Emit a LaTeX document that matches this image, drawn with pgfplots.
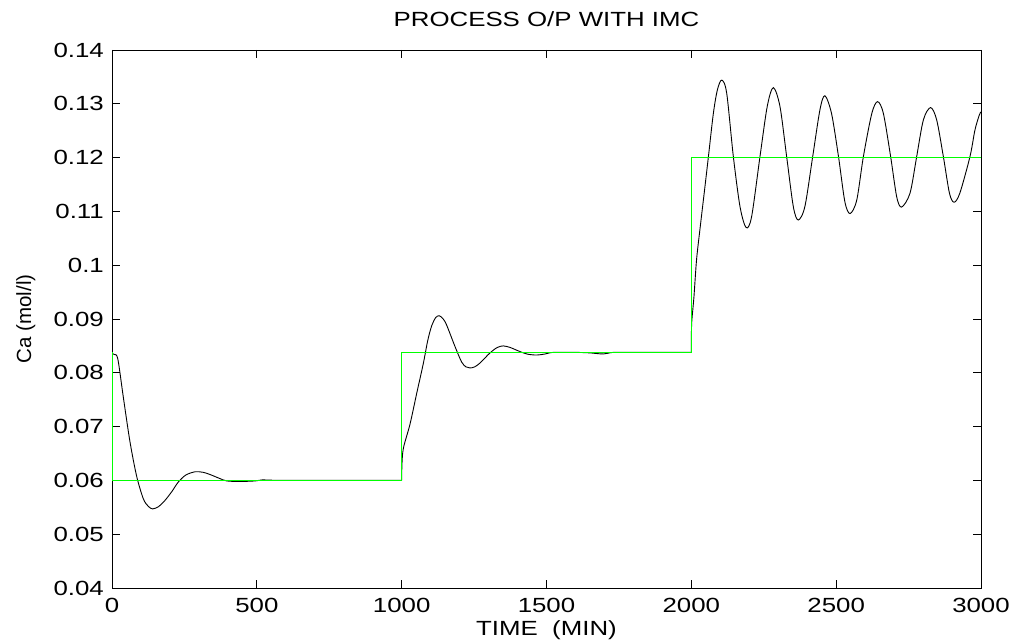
\documentclass[border=0pt]{standalone}
\usepackage{fontspec}
\setmainfont{Liberation Sans}[FakeStretch=1.26]
\newfontfamily\ylfont{Liberation Sans}
\usepackage{pgfplots}
\pgfplotsset{compat=1.18}
\definecolor{mgreen}{RGB}{0,255,0}
\begin{document}
\begin{tikzpicture}[font=\fontsize{20.5bp}{24bp}\selectfont]
\useasboundingbox (0,0) rectangle (1010bp,641bp);
\begin{axis}[
  at={(112bp,53bp)}, anchor=south west,
  width=869bp, height=538bp, scale only axis,
  xmin=0, xmax=3000, ymin=0.04, ymax=0.14,
  xtick={0,500,1000,1500,2000,2500,3000},
  xticklabels={0,500,1000,1500,2000,2500,3000},
  ytick={0.04,0.05,0.06,0.07,0.08,0.09,0.1,0.11,0.12,0.13,0.14},
  yticklabels={0.04,0.05,0.06,0.07,0.08,0.09,0.1,0.11,0.12,0.13,0.14},
  scaled ticks=false,
  /pgf/number format/assume math mode=true,
  tick align=inside,
  major tick length=8bp,
  minor tick num=0,
  axis line style={line width=0.8bp, black},
  tick style={line width=0.8bp, black},
  xticklabel style={anchor=north, inner sep=0pt, yshift=-10bp, font=\fontsize{20.5bp}{24bp}\selectfont},
  yticklabel style={anchor=east, inner sep=0pt, xshift=-8bp, font=\fontsize{20.5bp}{24bp}\selectfont},
  title={PROCESS O/P WITH IMC},
  title style={at={(axis description cs:0.5,1.0329)}, anchor=base, inner sep=0pt, font=\fontsize{20.5bp}{24bp}\selectfont},
  xlabel={TIME\ \ (MIN)},
  xlabel style={at={(axis description cs:0.5,-0.0892)}, anchor=base, inner sep=0pt, font=\fontsize{20.5bp}{24bp}\selectfont},
  ylabel={Ca (mol/l)},
  ylabel style={at={(axis description cs:-0.0932,0.5)}, anchor=base, inner sep=0pt, font=\ylfont\fontsize{20.5bp}{24bp}\selectfont},
]
% Process output, segment 1
\addplot[black, line width=0.9bp, smooth, tension=0.5] coordinates {
(0,0.0836) (8,0.0834) (20,0.0826) (39,0.0755) (62,0.0672) (85,0.0608)
(108,0.0566) (125,0.0552) (140,0.0547) (160,0.0551) (180,0.0561)
(205,0.0578) (229,0.0597) (255,0.0610) (287,0.0616) (315,0.0615)
(338,0.0611) (370,0.0604) (396,0.0599) (442,0.0598) (494,0.0599)
(520,0.0601) (600,0.0600) (1000,0.0600)
};
% segment 2
\addplot[black, line width=0.9bp, smooth, tension=0.5] coordinates {
(1000,0.0600) (1001,0.0630) (1006,0.0660) (1029,0.0705) (1052,0.0762)
(1075,0.0818) (1090,0.0860) (1104,0.0888) (1118,0.0903) (1130,0.0906)
(1142,0.0901) (1155,0.0889) (1184,0.0849) (1207,0.0820) (1222,0.0811)
(1236,0.0809) (1252,0.0811) (1270,0.0818) (1305,0.0837) (1330,0.0847)
(1351,0.0850) (1375,0.0847) (1397,0.0842) (1432,0.0835) (1466,0.0833)
(1495,0.0835) (1524,0.0838) (1600,0.0838) (1650,0.0837) (1696,0.0835)
(1731,0.0838) (1800,0.0838) (2000,0.0838)
};
% segment 3
\addplot[black, line width=0.9bp, smooth, tension=0.5] coordinates {
(2000,0.0838) (2001,0.0890) (2009,0.0941) (2018,0.1010) (2030,0.1068)
(2047,0.1146) (2059,0.1202) (2076,0.1282) (2090,0.1326) (2105,0.1344)
(2122,0.1320) (2145,0.1202) (2168,0.1109) (2189,0.1070) (2208,0.1090)
(2237,0.1202) (2262,0.1295) (2283,0.1330) (2306,0.1295) (2329,0.1202)
(2352,0.1109) (2369,0.1084) (2392,0.1109) (2419,0.1202) (2444,0.1289)
(2461,0.1315) (2484,0.1282) (2508,0.1202) (2530,0.1118) (2548,0.1096)
(2571,0.1121) (2594,0.1202) (2623,0.1282) (2643,0.1304) (2663,0.1282)
(2688,0.1202) (2709,0.1127) (2726,0.1108) (2755,0.1134) (2778,0.1202)
(2801,0.1270) (2826,0.1293) (2847,0.1270) (2870,0.1202) (2891,0.1134)
(2907,0.1117) (2927,0.1134) (2962,0.1202) (2979,0.1251) (2994,0.1279)
(3000,0.1285)
};
% Set point
\addplot[mgreen, line width=1.2bp] coordinates {
(0,0.0838) (0,0.0600) (1000,0.0600) (1000,0.0838) (2000,0.0838)
(2000,0.1200) (3000,0.1200)
};
\end{axis}
\end{tikzpicture}
\end{document}
